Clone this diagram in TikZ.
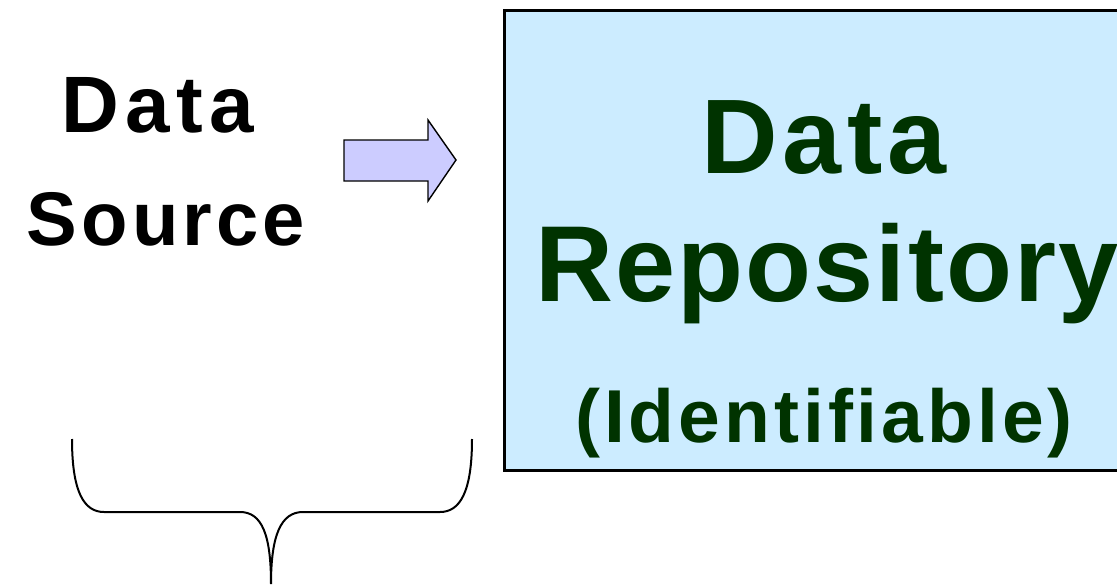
\documentclass[tikz,border=0pt]{standalone}
\usepackage{fontspec}
\setmainfont{Liberation Sans}
\definecolor{repofill}{HTML}{CCECFF}
\definecolor{repotext}{HTML}{003300}
\definecolor{arrowfill}{HTML}{CCCCFF}
% bold text at a given size with a given tracking
\newcommand{\trackedfont}[2]{\bfseries\fontsize{#1}{#1}\selectfont\addfontfeature{LetterSpace=#2}}
\begin{document}
\begin{tikzpicture}[x=1pt,y=-1pt,
  label/.style={inner sep=0pt,anchor=base},
  repolabel/.style={label,text=repotext},
  repobox/.style={draw=black,line width=3pt,fill=repofill},
  blockarrow/.style={draw=black,line width=1.4pt,fill=arrowfill,line join=miter},
  bracepath/.style={draw=black,line width=2pt}]
\useasboundingbox (0,0) rectangle (1117,586);
\clip (0,0) rectangle (1117,586);

% repository box (runs past the right edge)
\node[repobox,inner sep=0pt,outer sep=0pt,anchor=north west,minimum width=640pt,minimum height=460pt] (repo) at (504.5,10.5) {};

% repository labels
\node[repolabel,font=\trackedfont{106}{5}] (repoA) at (824,173) {Data};
\node[repolabel,font=\trackedfont{108}{2}] (repoB) at (827,301) {Repository};
\node[repolabel,font=\trackedfont{75}{5.3}] (repoC) at (824,442) {(Identifiable)};

% data source labels
\node[label,font=\trackedfont{80}{8}] (srcA) at (158,132) {Data};
\node[label,font=\trackedfont{76}{5.5}] (srcB) at (166,245) {Source};

% block arrow pointing to the repository
\coordinate (tail) at (344,160);
\coordinate (tip) at (456,160);
\path[blockarrow] (tail) ++(0,-20) -- ++(84,0) -- ++(0,-20) -- (tip)
  -- ++(-28,41) -- ++(0,-20) -- ++(-84,0) -- cycle;

% brace under the data source
\coordinate (bl) at (72,439);
\coordinate (br) at (472,439);
\coordinate (bm) at (271,584);
\path[bracepath] (bl) .. controls (72,492) and (84,512) .. (104,512)
  -- (240,512) .. controls (262,512) and (271,535) .. (bm)
  .. controls (271,535) and (281,512) .. (303,512)
  -- (440,512) .. controls (460,512) and (472,492) .. (br);
\end{tikzpicture}
\end{document}
